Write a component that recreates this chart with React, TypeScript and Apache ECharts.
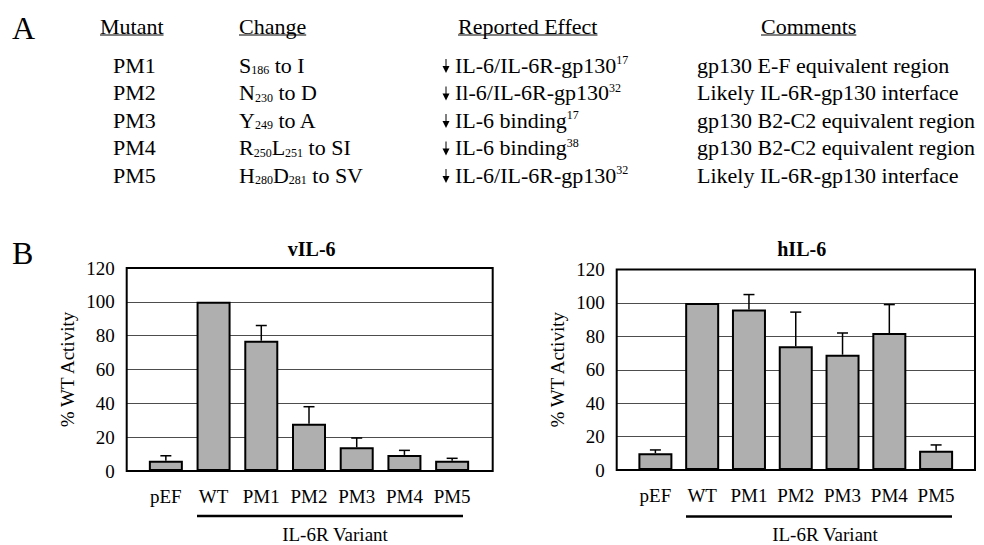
import React, { useEffect, useRef } from 'react';
import * as echarts from 'echarts';

const categories = ['pEF', 'WT', 'PM1', 'PM2', 'PM3', 'PM4', 'PM5'];
const vIL6Values = [6, 100, 77, 28, 14, 9.5, 6];
const vIL6Errors = [3, 0, 9, 10, 5.5, 2.7, 1.5];
const hIL6Values = [10, 100, 96, 74, 69, 82, 11.5];
const hIL6Errors = [2, 0, 9, 20.5, 13, 17, 3.5];
const yMin = 0;
const yMax = 120;
const yInterval = 20;

const tableHeaders = ['Mutant', 'Change', 'Reported Effect', 'Comments'];
const mutants = ['PM1', 'PM2', 'PM3', 'PM4', 'PM5'];
const changes = [
  '{n|S}{s|186}{n| to I}',
  '{n|N}{s|230}{n| to D}',
  '{n|Y}{s|249}{n| to A}',
  '{n|R}{s|250}{n|L}{s|251}{n| to SI}',
  '{n|H}{s|280}{n|D}{s|281}{n| to SV}',
];
const effects = [
  '{n|IL-6/IL-6R-gp130}{p|17}',
  '{n|Il-6/IL-6R-gp130}{p|32}',
  '{n|IL-6 binding}{p|17}',
  '{n|IL-6 binding}{p|38}',
  '{n|IL-6/IL-6R-gp130}{p|32}',
];
const comments = [
  'gp130 E-F equivalent region',
  'Likely IL-6R-gp130 interface',
  'gp130 B2-C2 equivalent region',
  'gp130 B2-C2 equivalent region',
  'Likely IL-6R-gp130 interface',
];

const FONT = 'Liberation Serif';

const rich = {
  n: { fontSize: 22, fontFamily: FONT, color: '#000', lineHeight: 22, verticalAlign: 'middle' },
  s: { fontSize: 12, fontFamily: FONT, color: '#000', lineHeight: 12, verticalAlign: 'bottom' },
  p: { fontSize: 12, fontFamily: FONT, color: '#000', lineHeight: 12, verticalAlign: 'top' },
};

export default function App() {
  const ref = useRef<HTMLDivElement>(null);
  useEffect(() => {
    if (!ref.current) return;
    const chart = echarts.init(ref.current, null, { renderer: 'svg' });

    const colX = [100, 239, 458, 761];
    const rowX = [113, 239, 455, 697];
    const headerY = 26;
    const rowY = [65, 92.5, 120, 147.5, 175];

    const graphics: any[] = [];
    graphics.push({ type: 'text', x: 12, y: 28, style: { text: 'A', fontSize: 32, fontFamily: FONT, fill: '#000', verticalAlign: 'middle' } });
    graphics.push({ type: 'text', x: 12, y: 253, style: { text: 'B', fontSize: 32, fontFamily: FONT, fill: '#000', verticalAlign: 'middle' } });

    tableHeaders.forEach((h, i) => {
      graphics.push({ type: 'text', x: colX[i], y: headerY, style: { text: h, fontSize: 22, fontFamily: FONT, fill: '#000', verticalAlign: 'middle' } });
    });
    mutants.forEach((m, r) => {
      const y = rowY[r];
      graphics.push({ type: 'text', x: rowX[0], y, style: { text: m, fontSize: 22, fontFamily: FONT, fill: '#000', verticalAlign: 'middle' } });
      graphics.push({ type: 'text', x: rowX[1], y, style: { text: changes[r], rich, verticalAlign: 'middle' } });
      graphics.push({ type: 'text', x: rowX[2], y, style: { text: effects[r], rich, verticalAlign: 'middle' } });
      graphics.push({ type: 'text', x: rowX[3], y, style: { text: comments[r], fontSize: 22, fontFamily: FONT, fill: '#000', verticalAlign: 'middle' } });
      // down arrow
      graphics.push({ type: 'line', shape: { x1: 446, y1: y - 6, x2: 446, y2: y + 2 }, style: { stroke: '#000', lineWidth: 1 } });
      graphics.push({ type: 'polygon', shape: { points: [[442.5, y + 1], [449.5, y + 1], [446, y + 8]] }, style: { fill: '#000' } });
    });

    // Variant brackets
    const brackets = [
      { x1: 197, x2: 463, y: 516, tx: 335 },
      { x1: 686, x2: 952, y: 516.5, tx: 825 },
    ];
    brackets.forEach((b) => {
      graphics.push({ type: 'line', shape: { x1: b.x1, y1: b.y, x2: b.x2, y2: b.y }, style: { stroke: '#000', lineWidth: 2.5 } });
      graphics.push({ type: 'text', x: b.tx, y: 534.5, style: { text: 'IL-6R Variant', fontSize: 19, fontFamily: FONT, fill: '#000', align: 'center', verticalAlign: 'middle' } });
    });

    const boxes = [
      { left: 126.7, top: 268, width: 366, height: 203, barLeft: 142, barWidth: 334, title: 'vIL-6', tx: 306.7 },
      { left: 616.7, top: 269.5, width: 358.3, height: 200.5, barLeft: 632, barWidth: 327.5, title: 'hIL-6', tx: 796.7 },
    ];
    const dataSets = [
      { values: vIL6Values, errors: vIL6Errors },
      { values: hIL6Values, errors: hIL6Errors },
    ];

    const grid: any[] = [];
    const xAxis: any[] = [];
    const yAxis: any[] = [];
    const series: any[] = [];
    const title: any[] = [];

    boxes.forEach((b, k) => {
      title.push({
        text: b.title,
        left: b.tx,
        top: 234,
        textAlign: 'center',
        textStyle: { fontFamily: FONT, fontSize: 20, fontWeight: 'bold', color: '#000' },
      });
      grid.push({ left: b.left, top: b.top, width: b.width, height: b.height, show: true, borderColor: '#000', borderWidth: 2, backgroundColor: 'transparent', z: 5 });
      grid.push({ left: b.barLeft, top: b.top, width: b.barWidth, height: b.height });
      const gBox = k * 2;
      const gBar = k * 2 + 1;
      xAxis.push({ type: 'value', gridIndex: gBox, min: 0, max: 1, show: false });
      xAxis.push({
        type: 'category',
        gridIndex: gBar,
        data: categories,
        axisLine: { show: false },
        axisTick: { show: false },
        axisLabel: { fontFamily: FONT, fontSize: 19, color: '#000', margin: 16, interval: 0 },
      });
      yAxis.push({
        type: 'value',
        gridIndex: gBox,
        min: yMin,
        max: yMax,
        interval: yInterval,
        axisLine: { show: false },
        axisTick: { show: false },
        axisLabel: { fontFamily: FONT, fontSize: 19, color: '#000', margin: 12 },
        splitLine: { show: true, lineStyle: { color: '#4d4d4d', width: 1 } },
        name: '% WT Activity',
        nameLocation: 'middle',
        nameGap: 50,
        nameTextStyle: { fontFamily: FONT, fontSize: 19, color: '#000' },
      });
      yAxis.push({ type: 'value', gridIndex: gBar, min: yMin, max: yMax, interval: yInterval, show: false, splitLine: { show: false } });

      const ds = dataSets[k];
      series.push({
        type: 'bar',
        xAxisIndex: gBar,
        yAxisIndex: gBar,
        data: ds.values,
        barWidth: 34,
        z: 3,
        itemStyle: { color: '#afafaf', borderColor: '#000', borderWidth: 2 },
      });
      series.push({
        type: 'custom',
        xAxisIndex: gBar,
        yAxisIndex: gBar,
        z: 4,
        data: categories.map((c, i) => [i, ds.values[i], ds.errors[i]]),
        encode: { x: 0, y: 1 },
        renderItem: (params: any, api: any) => {
          const i = api.value(0);
          const v = api.value(1);
          const e = api.value(2);
          if (!e) return { type: 'group', children: [] };
          const p0 = api.coord([i, v]);
          const p1 = api.coord([i, v + e]);
          return {
            type: 'group',
            children: [
              { type: 'line', shape: { x1: p0[0], y1: p0[1], x2: p1[0], y2: p1[1] }, style: { stroke: '#000', lineWidth: 1.5 } },
              { type: 'line', shape: { x1: p1[0] - 5.5, y1: p1[1], x2: p1[0] + 5.5, y2: p1[1] }, style: { stroke: '#000', lineWidth: 1.5 } },
            ],
          };
        },
      });
    });

    const ctx = document.createElement('canvas').getContext('2d');
    if (ctx) {
      ctx.font = `22px "${FONT}"`;
      tableHeaders.forEach((h, i) => {
        const w = ctx.measureText(h).width;
        graphics.push({ type: 'line', shape: { x1: colX[i], y1: headerY + 9, x2: colX[i] + w, y2: headerY + 9 }, style: { stroke: '#000', lineWidth: 1 } });
      });
    }

    chart.setOption({
      animation: false,
      backgroundColor: '#fff',
      title,
      grid,
      xAxis,
      yAxis,
      series,
      graphic: graphics,
    });

    return () => chart.dispose();
  }, []);
  return <div ref={ref} style={{ position: 'fixed', left: 0, top: 0, width: 984, height: 545 }} />;
}
